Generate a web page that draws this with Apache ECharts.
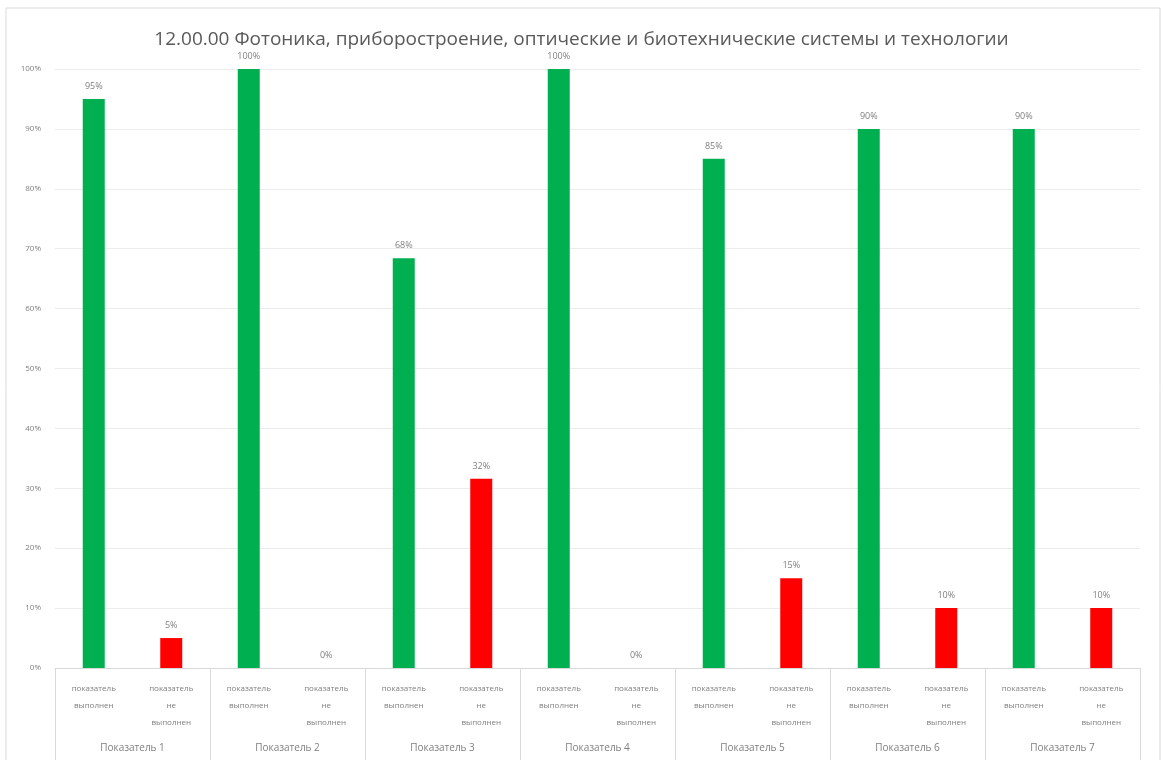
<!DOCTYPE html>
<html>
<head>
<meta charset="utf-8">
<script src="https://cdn.jsdelivr.net/npm/echarts@6/dist/echarts.min.js"></script>
<style>html,body{margin:0;padding:0;background:#fff}#c{width:1163px;height:760px}</style>
</head>
<body>
<div id="c"></div>
<script>
const title = '12.00.00 Фотоника, приборостроение, оптические и биотехнические системы и технологии';
const groups = ['Показатель 1','Показатель 2','Показатель 3','Показатель 4','Показатель 5','Показатель 6','Показатель 7'];
const innerLabels = ['показатель\nвыполнен', 'показатель\nне\nвыполнен'];
const doneValues = [95, 100, 68.4, 100, 85, 90, 90];
const notDoneValues = [5, 0, 31.6, 0, 15, 10, 10];
const yTicks = [0,10,20,30,40,50,60,70,80,90,100];

const cats = [];
const barData = [];
groups.forEach((g, i) => {
  cats.push(g + '|0');
  barData.push({ value: doneValues[i], itemStyle: { color: '#00B050' } });
  cats.push(g + '|1');
  barData.push({ value: notDoneValues[i], itemStyle: { color: '#FF0000' } });
});

const chart = echarts.init(document.getElementById('c'));
chart.setOption({
  animation: false,
  backgroundColor: '#fff',
  title: {
    text: title, left: 'center', top: 25,
    textStyle: { fontFamily: 'Open Sans', fontSize: 19, fontWeight: 'normal', color: '#595959' }
  },
  graphic: [{
    type: 'rect', shape: { x: 6, y: 8, width: 1154, height: 760 },
    style: { fill: 'none', stroke: '#d9d9d9', lineWidth: 1 }, silent: true
  }],
  grid: { left: 55, right: 23, top: 69, bottom: 92, containLabel: false },
  xAxis: [{
    type: 'category', data: cats,
    axisLine: { lineStyle: { color: '#d9d9d9' } },
    axisTick: { show: false },
    axisLabel: {
      interval: 0, margin: 12, lineHeight: 17,
      fontFamily: 'Open Sans', fontSize: 8, color: '#7f7f7f',
      formatter: v => innerLabels[+v.split('|')[1]]
    }
  }, {
    type: 'category', data: groups, position: 'bottom',
    axisLine: { show: false },
    axisTick: { show: true, length: 92, lineStyle: { color: '#d9d9d9' } },
    axisLabel: { interval: 0, margin: 75, fontFamily: 'Open Sans', fontSize: 10, color: '#7f7f7f' }
  }],
  yAxis: {
    type: 'value', min: 0, max: 100, interval: 10,
    axisLine: { show: false }, axisTick: { show: false },
    axisLabel: { formatter: v => yTicks.includes(v) ? v + '%' : '', margin: 14, fontFamily: 'Open Sans', fontSize: 8, color: '#7f7f7f' },
    splitLine: { lineStyle: { color: '#ececec' } }
  },
  series: [{
    type: 'bar', data: barData, barWidth: 22, xAxisIndex: 0,
    label: {
      show: true, position: 'top', distance: 8,
      fontFamily: 'Open Sans', fontSize: 9, color: '#7f7f7f',
      formatter: p => Math.round(p.value) + '%'
    }
  }]
});
</script>
</body>
</html>
